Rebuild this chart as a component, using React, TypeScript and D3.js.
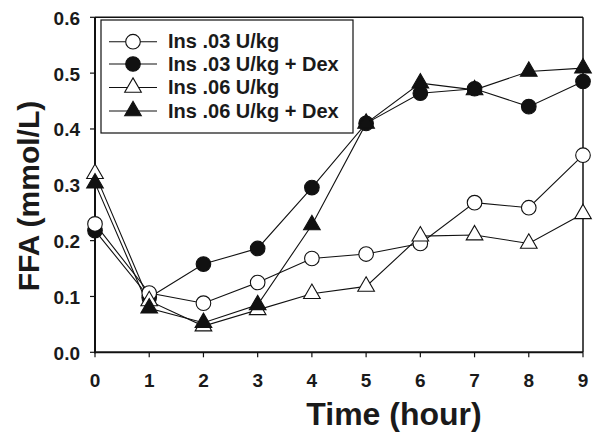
import React from "react";
import * as d3 from "d3";

const hours = [0, 1, 2, 3, 4, 5, 6, 7, 8, 9];
const ins03 = [0.23, 0.106, 0.088, 0.125, 0.168, 0.176, 0.195, 0.268, 0.259, 0.353];
const ins03Dex = [0.218, 0.098, 0.158, 0.186, 0.295, 0.41, 0.464, 0.472, 0.44, 0.485];
const ins06 = [0.32, 0.092, 0.047, 0.076, 0.105, 0.118, 0.208, 0.21, 0.195, 0.248];
const ins06Dex = [0.303, 0.079, 0.053, 0.085, 0.228, 0.41, 0.482, 0.47, 0.503, 0.509];
const yTicks = [0.0, 0.1, 0.2, 0.3, 0.4, 0.5, 0.6];
const seriesNames = ["Ins .03 U/kg", "Ins .03 U/kg + Dex", "Ins .06 U/kg", "Ins .06 U/kg + Dex"];

type Series = { name: string; values: number[]; shape: "circle" | "triangle"; filled: boolean };
const series: Series[] = [
  { name: seriesNames[0], values: ins03, shape: "circle", filled: false },
  { name: seriesNames[1], values: ins03Dex, shape: "circle", filled: true },
  { name: seriesNames[2], values: ins06, shape: "triangle", filled: false },
  { name: seriesNames[3], values: ins06Dex, shape: "triangle", filled: true },
];

const W = 600, H = 439;
const left = 95, right = 583, top = 17.3, bottom = 352.3;
const FONT = "'Liberation Sans', Arial, sans-serif";

function Marker({ s, x, y }: { s: Series; x: number; y: number }) {
  const fill = s.filled ? "#111" : "#fff";
  if (s.shape === "circle") {
    return <circle cx={x} cy={y} r={7.3} fill={fill} stroke="#111" strokeWidth={1.1} />;
  }
  const sym = d3.symbol().type(d3.symbolTriangle).size(120)();
  return <path d={sym as string} transform={`translate(${x},${y})`} fill={fill} stroke="#111" strokeWidth={1.1} />;
}

export default function App() {
  const x = d3.scaleLinear().domain([0, 9]).range([left, right]);
  const y = d3.scaleLinear().domain([0, 0.6]).range([bottom, top]);
  const line = d3.line<number>().x((_, i) => x(hours[i])).y((d) => y(d));

  const drawOrder = [1, 0, 2, 3];
  const legendRows = [41.7, 64, 87.5, 111];
  return (
    <svg width={W} height={H} style={{ position: "absolute", left: 0, top: 0, background: "#fff" }}>
      <rect x={0} y={0} width={W} height={H} fill="#fff" />
      <line x1={left} x2={right} y1={top} y2={top} stroke="#111" strokeWidth={1.5} />
      <line x1={right} x2={right} y1={top} y2={bottom} stroke="#111" strokeWidth={1.5} />
      <line x1={left} x2={left} y1={top} y2={bottom + 1} stroke="#111" strokeWidth={2} />
      <line x1={left - 1} x2={right} y1={bottom} y2={bottom} stroke="#111" strokeWidth={2} />
      {yTicks.map((t) => (
        <g key={t}>
          <line x1={left - 5} x2={left} y1={y(t)} y2={y(t)} stroke="#111" strokeWidth={1.2} />
          <text x={80} y={y(t) + 7.5} textAnchor="end" fontFamily={FONT} fontWeight="bold" fontSize={19} fill="#1a1a1a">
            {t.toFixed(1)}
          </text>
        </g>
      ))}
      {hours.map((h) => (
        <g key={h}>
          <line x1={x(h)} x2={x(h)} y1={bottom} y2={bottom + 5} stroke="#111" strokeWidth={1.2} />
          <text x={x(h)} y={387} textAnchor="middle" fontFamily={FONT} fontWeight="bold" fontSize={19} fill="#1a1a1a">
            {h}
          </text>
        </g>
      ))}
      <text x={394} y={425} textAnchor="middle" fontFamily={FONT} fontWeight="bold" fontSize={32} fill="#1a1a1a">
        Time (hour)
      </text>
      <text transform={`translate(39,196) rotate(-90)`} textAnchor="middle" fontFamily={FONT} fontWeight="bold" fontSize={30} fill="#1a1a1a">
        FFA (mmol/L)
      </text>
      {drawOrder.map((i) => (
        <path key={"l" + i} d={line(series[i].values) as string} fill="none" stroke="#111" strokeWidth={1.1} />
      ))}
      {drawOrder.map((i) => (
        <g key={"m" + i}>
          {series[i].values.map((v, j) => (
            <Marker key={j} s={series[i]} x={x(hours[j])} y={y(v)} />
          ))}
        </g>
      ))}
      <rect x={101} y={20} width={252} height={113} fill="#fff" stroke="#111" strokeWidth={1.2} />
      {series.map((s, i) => (
        <g key={"lg" + i}>
          <line x1={109} x2={157} y1={legendRows[i]} y2={legendRows[i]} stroke="#111" strokeWidth={1.1} />
          <Marker s={s} x={133} y={legendRows[i]} />
          <text x={168} y={legendRows[i] + 6.5} fontFamily={FONT} fontWeight="bold" fontSize={20} fill="#1a1a1a">
            {s.name}
          </text>
        </g>
      ))}
    </svg>
  );
}
